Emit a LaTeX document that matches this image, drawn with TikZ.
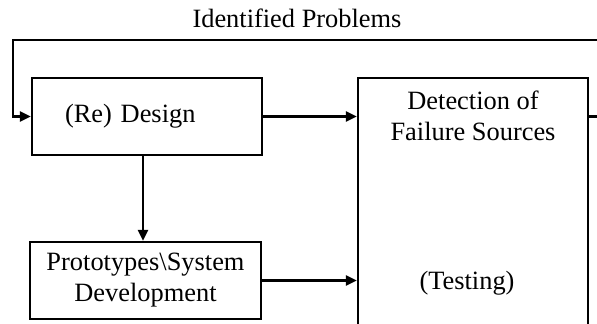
\documentclass[tikz,border=0pt]{standalone}
\usepackage{fontspec}
\setmainfont{Liberation Serif}
\usetikzlibrary{arrows.meta,positioning}

\begin{document}
\begin{tikzpicture}[x=0.5pt,y=-0.5pt,
  box/.style={draw,line width=1.1pt,align=center,inner sep=0pt,
              font=\fontsize{13.2}{15.5}\selectfont},
  txt/.style={align=center,inner sep=0pt,font=\fontsize{13.2}{15.5}\selectfont},
  ar/.style={-{Triangle[length=5.5pt,width=5pt]},line width=1.1pt}]
\useasboundingbox (0,0) rectangle (597,324);
\clip (0,0) rectangle (597,324);
% the three blocks
\node[box,minimum width=115pt,minimum height=38.5pt,text width=82pt,
      inner xsep=16.5pt,align=left] (design) at (147,116.5) {(Re) Design};
\node[box,minimum width=115.5pt,minimum height=38.5pt] (proto) at (145.5,280.5)
      {Prototypes\textbackslash System\\Development};
\node[box,minimum width=115pt,minimum height=136pt] (det) at (473,214) {};
\node[txt] (detlbl) at (473,116) {Detection of\\Failure Sources};
\node[txt] (testlbl) at (467,283) {(Testing)};
\node[txt] (problems) at (297,18) {Identified Problems};
\coordinate (fbL) at (13,40);
% flow
\draw[ar] (design) -- (design -| det.west);
\draw[ar] ([xshift=-2pt]design.south) -- ([xshift=-2pt]design.south |- proto.north);
\draw[ar] (proto) -- (proto -| det.west);
% feedback loop
\draw[ar] (det.east |- design) -- ++(24,0) |- (fbL) |- (design.west);
\end{tikzpicture}
\end{document}
